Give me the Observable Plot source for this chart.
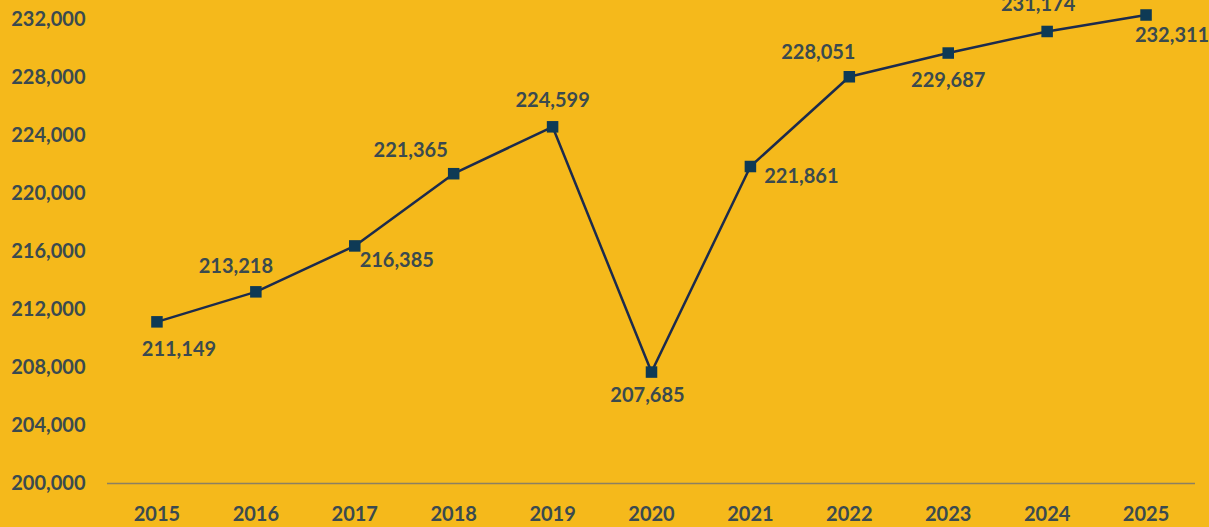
<!DOCTYPE html>
<html>
<head>
<meta charset="utf-8">
<script src="https://cdn.jsdelivr.net/npm/d3@7"></script>
<script src="https://cdn.jsdelivr.net/npm/@observablehq/plot@0.6"></script>
<style>
  html, body { margin: 0; padding: 0; background: #F5B91B; overflow: hidden; }
  #chart svg { display: block; }
</style>
</head>
<body>
<div id="chart"></div>
<script>
const years = [2015, 2016, 2017, 2018, 2019, 2020, 2021, 2022, 2023, 2024, 2025];
const values = [211149, 213218, 216385, 221365, 224599, 207685, 221861, 228051, 229687, 231174, 232311];
const yTicks = [200000, 204000, 208000, 212000, 216000, 220000, 224000, 228000, 232000];
// data-label offsets from each marker (pixels)
const labelDx = [22, -20, 42, -43, 0, -4, 51, -31, 0, -9, 26];
const labelDy = [28, -25, 15, -23, -26, 24, 10, -24, 28, -27, 21];

const data = years.map((y, i) => ({year: y, value: values[i], dx: labelDx[i], dy: labelDy[i]}));
const fmt = d3.format(",");
const textColor = "#3A4A4F";
const font = "Lato, 'Open Sans', sans-serif";

const labelMarks = data.map(d =>
  Plot.text([d], {
    x: "year", y: "value", text: d => fmt(d.value),
    dx: d.dx, dy: d.dy, fill: textColor, fontWeight: "bold", fontSize: 20
  })
);

const chart = Plot.plot({
  width: 1209,
  height: 527,
  marginLeft: 107,
  marginRight: 14,
  marginTop: 19,
  marginBottom: 44,
  style: {background: "#F5B91B", fontFamily: font, overflow: "visible"},
  x: {domain: [2014.5, 2025.5], label: null},
  y: {domain: [200000, 232000], label: null},
  marks: [
    Plot.axisY({ticks: yTicks, tickFormat: fmt, tickSize: 0, tickPadding: 22, fontSize: 20, fontWeight: "bold", fill: textColor, label: null}),
    Plot.axisX({ticks: years, tickFormat: d => String(d), tickSize: 0, tickPadding: 23, fontSize: 20, fontWeight: "bold", fill: textColor, label: null}),
    Plot.ruleY([200000], {stroke: "#8C8060", strokeWidth: 1.5}),
    Plot.line(data, {x: "year", y: "value", stroke: "#1C2B4D", strokeWidth: 2.5}),
    Plot.dot(data, {x: "year", y: "value", symbol: "square", r: 6.5, fill: "#0E3A55", stroke: "none"}),
    ...labelMarks
  ]
});
document.getElementById("chart").appendChild(chart);
</script>
</body>
</html>
